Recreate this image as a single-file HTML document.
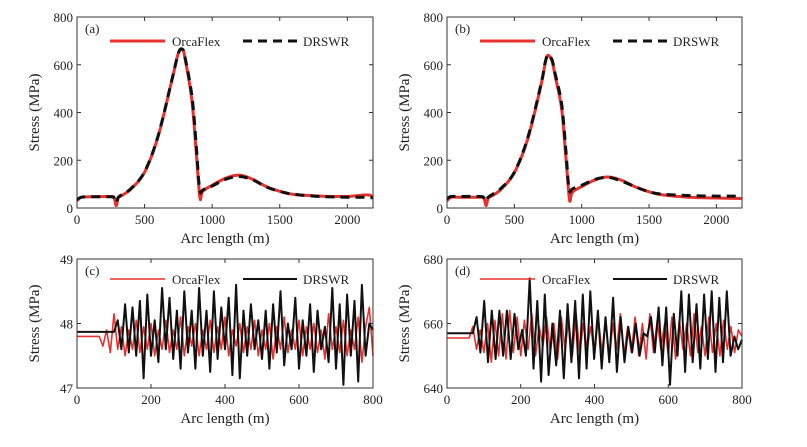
<!DOCTYPE html>
<html><head><meta charset="utf-8"><style>
body{margin:0;background:#fff;}
svg text{font-family:"Liberation Serif",serif;fill:#222;}
</style></head><body>
<svg id="fig" width="807" height="442" viewBox="0 0 807 442"></svg>
<script>
// ---- data ----
const aX = [0,30,100,250,275,290,305,330,400,500,600,700,750,780,800,850,880,900,912,930,1000,1100,1200,1300,1400,1500,1600,1800,2000,2150,2190];
const aOrca = [30,45,47,48,42,10,42,52,80,150,300,530,650,662,625,450,250,100,35,70,95,125,138,120,90,70,57,50,48,55,45];
const aDrswr = [35,45,47,47,42,22,45,55,82,152,302,532,648,665,630,470,280,120,65,75,92,120,132,118,88,70,58,48,45,45,42];
const bX = [0,30,100,250,275,290,305,330,400,500,600,700,730,750,780,800,850,880,900,912,930,1000,1100,1200,1300,1400,1500,1600,1800,2000,2150,2190];
const bOrca = [30,45,45,45,40,10,40,50,78,148,290,520,610,640,615,560,420,230,90,28,65,90,118,130,115,88,68,55,45,42,40,40];
const bDrswr = [40,48,48,48,42,28,45,55,82,150,295,525,612,642,620,570,440,260,110,68,80,95,120,128,112,88,68,58,52,50,50,50];
const cOrcaFlat = 47.8, cOrcaStart = 60;
const cOrca = [47.8,47.65,47.9,47.55,48.15,47.6,47.95,47.5,47.9,47.6,48.05,47.55,47.95,47.6,48.0,47.5,47.9,47.6,48.05,47.55,47.9,47.6,48.1,47.5,47.95,47.65,48.0,47.5,47.9,47.6,48.05,47.55,47.95,47.6,48.1,47.5,47.9,47.65,48.0,47.55,47.95,47.6,48.05,47.5,47.9,47.6,48.0,47.45,47.95,47.6,48.1,47.55,47.9,47.6,48.05,47.5,47.95,47.6,48.0,47.55,47.9,47.45,48.15,47.6,47.95,47.55,48.05,47.5,47.9,47.6,48.1,47.4,47.95,48.25,47.5];
const cDrswrFlat = 47.87, cDrswrStart = 100;
const cDrswr = [47.9,48.05,47.6,48.3,47.55,48.25,47.5,48.35,47.15,48.45,47.5,48.05,47.4,48.55,47.6,48.4,47.45,48.2,47.3,48.5,47.55,48.2,47.3,48.55,47.5,48.2,47.25,48.5,47.45,48.25,47.6,48.4,47.2,48.6,47.15,48.2,47.5,48.3,47.6,48.05,47.45,48.2,47.3,48.3,47.55,48.5,47.35,48.0,47.6,48.4,47.3,48.05,47.5,48.3,47.25,48.2,47.6,47.95,47.4,48.55,47.3,48.3,47.05,48.45,47.5,48.35,47.1,48.6,47.5,48.0,47.9];
const dOrcaFlat = 655.5, dOrcaStart = 60;
const dOrca = [655,659,652,658,651,660,648,661,650,663,649,664,651,662,650,661,652,663,650,659,653,662,651,660,649,662,652,661,650,663,651,660,652,659,650,662,651,661,649,660,652,663,650,659,651,662,650,660,649,663,651,661,652,660,650,662,649,661,652,660,650,663,651,659,650,662,651,660,650,661,652,659,651,658,656];
const dDrswrStart = 70, dDrswrFlat = 657;
const dDrswr = [657,662,651,667,648,664,649,664,650,664,649,663,652,658,650,674,646,667,642,669,644,660,647,664,643,666,648,667,643,669,646,670,649,664,646,662,648,668,645,662,648,659,651,660,650,657,656,662,651,665,647,665,641,663,650,670,645,669,648,666,646,669,649,670,645,668,648,670,650,656,652,655];
const topXTicks = [0,500,1000,1500,2000];
const topYTicks = [0,200,400,600,800];
const botXTicks = [0,200,400,600,800];
const cYTicks = [47,48,49];
const dYTicks = [640,660,680];

const NS = "http://www.w3.org/2000/svg";
const svg = document.getElementById('fig');
function mk(tag, attrs, parent){const e=document.createElementNS(NS,tag);for(const k in attrs)e.setAttribute(k,attrs[k]);(parent||svg).appendChild(e);return e;}

function smoothPath(pts){
  let d='M'+pts[0][0].toFixed(1)+','+pts[0][1].toFixed(1);
  for(let i=0;i<pts.length-1;i++){
    const p0=pts[Math.max(0,i-1)],p1=pts[i],p2=pts[i+1],p3=pts[Math.min(pts.length-1,i+2)];
    const c1x=p1[0]+(p2[0]-p0[0])/6,c1y=p1[1]+(p2[1]-p0[1])/6;
    const c2x=p2[0]-(p3[0]-p1[0])/6,c2y=p2[1]-(p3[1]-p1[1])/6;
    d+='C'+c1x.toFixed(1)+','+c1y.toFixed(1)+' '+c2x.toFixed(1)+','+c2y.toFixed(1)+' '+p2[0].toFixed(1)+','+p2[1].toFixed(1);
  }
  return d;
}

function panel(o){
  const g = mk('g',{});
  
  
  const sx = v => o.x0 + (v-o.xmin)/(o.xmax-o.xmin)*(o.x1-o.x0);
  const sy = v => o.y1 - (v-o.ymin)/(o.ymax-o.ymin)*(o.y1-o.y0);
  o.series.forEach(s=>{
    const pts = s.xs.map((x,i)=>[sx(x),sy(s.ys[i])]);
    const d = o.smooth ? smoothPath(pts) : pts.map((p,i)=>(i?'L':'M')+p[0].toFixed(1)+','+p[1].toFixed(1)).join('');
    const p = mk('path',{d:d,fill:'none',stroke:s.color,'stroke-width':s.w,'stroke-dasharray':s.dash||'none','stroke-linejoin':'round'},g);
    
    
  });
  const fr = mk('rect',{x:o.x0,y:o.y0,width:o.x1-o.x0,height:o.y1-o.y0,fill:'none',stroke:'#333','stroke-width':1},g);
  
  
  o.xt.forEach(t=>{
    const x=sx(t);
    mk('line',{x1:x,x2:x,y1:o.y1,y2:o.y1-4,stroke:'#333'},g);
    mk('line',{x1:x,x2:x,y1:o.y0,y2:o.y0+4,stroke:'#333'},g);
    const tx=mk('text',{x:x,y:o.y1+16,'font-size':13,'text-anchor':'middle'},g);tx.textContent=t;
    
    
  });
  o.yt.forEach(t=>{
    const y=sy(t);
    mk('line',{x1:o.x0,x2:o.x0+4,y1:y,y2:y,stroke:'#333'},g);
    mk('line',{x1:o.x1,x2:o.x1-4,y1:y,y2:y,stroke:'#333'},g);
    const tx=mk('text',{x:o.x0-4,y:y+5,'font-size':13,'text-anchor':'end'},g);tx.textContent=t;
    
    
  });
  const xl=mk('text',{x:(o.x0+o.x1)/2,y:o.y1+35,'font-size':15,'text-anchor':'middle'},g);xl.textContent='Arc length (m)';
  
  
  const yx=o.x0-38, yy=(o.y0+o.y1)/2;
  const yl=mk('text',{x:yx,y:yy,'font-size':15,'text-anchor':'middle',transform:`rotate(-90 ${yx} ${yy})`},g);yl.textContent='Stress (MPa)';
  
  
  const lb=mk('text',{x:o.x0+8,y:o.y0+16,'font-size':13},g);lb.textContent=o.label;
  
  
  const ly=o.y0+o.legY;
  const l1=mk('line',{x1:o.x0+33,x2:o.x0+88,y1:ly,y2:ly,stroke:'#e8302c','stroke-width':o.series[0].w},g);
  
  
  const t1=mk('text',{x:o.x0+95,y:ly+5,'font-size':13},g);t1.textContent='OrcaFlex';
  
  
  const l2=mk('line',{x1:o.x0+166,x2:o.x0+220,y1:ly,y2:ly,stroke:'#111','stroke-width':o.series[1].w,'stroke-dasharray':o.series[1].dash||'none'},g);
  
  
  const t2=mk('text',{x:o.x0+226,y:ly+5,'font-size':13},g);t2.textContent='DRSWR';
  
  
}
function noisy(start, flat, vals, end){
  const step=(end-start)/(vals.length-1);
  return {xs:[0].concat(vals.map((v,i)=>start+i*step)), ys:[flat].concat(vals.map((v,i)=>i===0?flat:v))};
}
panel({name:'panel-a',label:'(a)',smooth:true,x0:77,x1:373,y0:17,y1:208,xmin:0,xmax:2190,ymin:0,ymax:800,xt:topXTicks,yt:topYTicks,legY:24,
  series:[{name:'orcaflex-line',xs:aX,ys:aOrca,color:'#e8302c',w:3},{name:'drswr-line',xs:aX,ys:aDrswr,color:'#111',w:3,dash:'9,6'}]});
panel({name:'panel-b',label:'(b)',smooth:true,x0:447,x1:742,y0:17,y1:208,xmin:0,xmax:2190,ymin:0,ymax:800,xt:topXTicks,yt:topYTicks,legY:24,
  series:[{name:'orcaflex-line',xs:bX,ys:bOrca,color:'#e8302c',w:3},{name:'drswr-line',xs:bX,ys:bDrswr,color:'#111',w:3,dash:'9,6'}]});
const cO=noisy(cOrcaStart,cOrcaFlat,cOrca,800), cD=noisy(cDrswrStart,cDrswrFlat,cDrswr,800);
panel({name:'panel-c',label:'(c)',x0:77,x1:373,y0:259,y1:388,xmin:0,xmax:800,ymin:47,ymax:49,xt:botXTicks,yt:cYTicks,legY:20,
  series:[{name:'orcaflex-line',xs:cO.xs,ys:cO.ys,color:'#e8302c',w:1.6},{name:'drswr-line',xs:cD.xs,ys:cD.ys,color:'#111',w:2}]});
const dO=noisy(dOrcaStart,dOrcaFlat,dOrca,800), dD=noisy(dDrswrStart,dDrswrFlat,dDrswr,800);
panel({name:'panel-d',label:'(d)',x0:447,x1:742,y0:259,y1:388,xmin:0,xmax:800,ymin:640,ymax:680,xt:botXTicks,yt:dYTicks,legY:20,
  series:[{name:'orcaflex-line',xs:dO.xs,ys:dO.ys,color:'#e8302c',w:1.6},{name:'drswr-line',xs:dD.xs,ys:dD.ys,color:'#111',w:2}]});
</script>
</body></html>
